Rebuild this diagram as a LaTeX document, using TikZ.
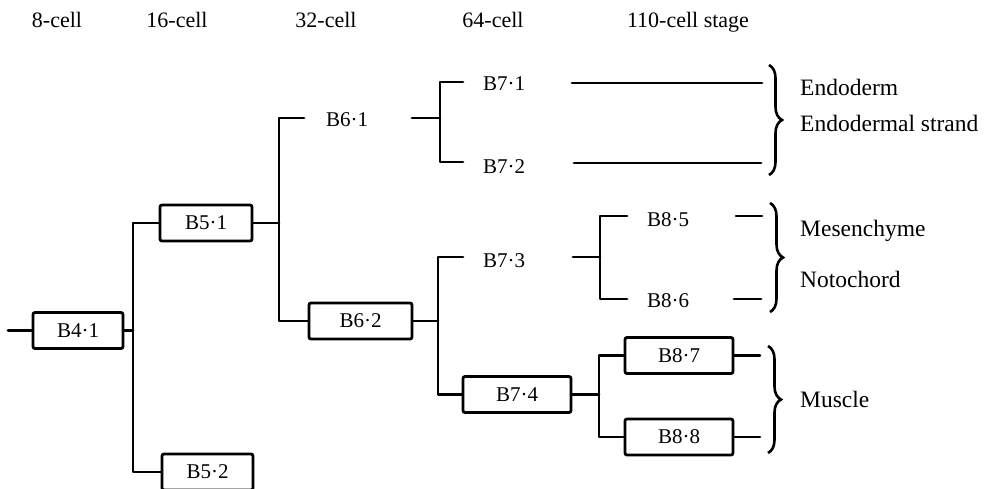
\documentclass[tikz,border=0pt]{standalone}
\usepackage{fontspec}
\setmainfont{Liberation Serif}
\usetikzlibrary{decorations.pathreplacing}
\begin{document}
\begin{tikzpicture}[x=1pt,y=-1pt,
  every node/.style={font=\fontsize{21}{25}\selectfont, inner sep=0pt},
  ln/.style={line width=2.8pt, line cap=round, line join=round},
  cellbox/.style={draw, line width=2.8pt, rounded corners=2pt, minimum height=36pt, anchor=center},
  lbl/.style={anchor=base west},
  fate/.style={anchor=base west, font=\fontsize{23.5}{28}\selectfont},
  hdr/.style={anchor=base, font=\fontsize{22}{26}\selectfont},
  brc/.style={decorate, decoration={brace, amplitude=13pt}, line width=2.6pt}]
\useasboundingbox (0,0) rectangle (988,488);
% headers
\node[hdr] (h8) at (57,27) {8-cell};
\node[hdr] (h16) at (177,27) {16-cell};
\node[hdr] (h32) at (326,27) {32-cell};
\node[hdr] (h64) at (493,27) {64-cell};
\node[hdr] (h110) at (688,27) {110-cell stage};
% boxes
\node[cellbox, minimum width=90pt] (b41) at (78,330.5) {B4·1};
\node[cellbox, minimum width=92pt] (b51) at (206,223) {B5·1};
\node[cellbox, minimum width=91pt] (b52) at (207.5,472) {B5·2};
\node[cellbox, minimum width=103pt] (b62) at (360.5,321) {B6·2};
\node[cellbox, minimum width=108pt] (b74) at (517,394.5) {B7·4};
\node[cellbox, minimum width=108pt] (b87) at (679,355.5) {B8·7};
\node[cellbox, minimum width=108pt] (b88) at (679,437) {B8·8};
% plain labels
\node[lbl] (b61) at (326,126) {B6·1};
\node[lbl] (b71) at (483,90) {B7·1};
\node[lbl] (b72) at (483,173) {B7·2};
\node[lbl] (b73) at (483,267) {B7·3};
\node[lbl] (b85) at (647,226) {B8·5};
\node[lbl] (b86) at (647,307) {B8·6};
% fate labels
\node[fate] (endo) at (800,95) {Endoderm};
\node[fate] (strand) at (800,131) {Endodermal strand};
\node[fate] (mes) at (800,236) {Mesenchyme};
\node[fate] (noto) at (800,287) {Notochord};
\node[fate] (mus) at (800,407) {Muscle};
% coordinates
\coordinate (in) at (8,330.5);
\coordinate (j4) at (133,330.5);
\coordinate (j4t) at (133,223);
\coordinate (j4b) at (133,472);
\coordinate (j5) at (279,223);
\coordinate (j5t) at (279,118);
\coordinate (j5b) at (279,321);
\coordinate (e61) at (304,118);
\coordinate (s61) at (412,118);
\coordinate (j6) at (440,118);
\coordinate (j6t) at (440,82);
\coordinate (j6b) at (440,162);
\coordinate (e71) at (463,82);
\coordinate (e72) at (463,162);
\coordinate (s71) at (572,83);
\coordinate (t71) at (762,83);
\coordinate (s72) at (574,163);
\coordinate (t72) at (761,163);
\coordinate (j62) at (438,321);
\coordinate (j62t) at (438,257);
\coordinate (j62b) at (438,394.5);
\coordinate (e73) at (463,257);
\coordinate (s73) at (573,257);
\coordinate (j73) at (600,257);
\coordinate (j73t) at (600,216);
\coordinate (j73b) at (600,299);
\coordinate (e85) at (627,216);
\coordinate (e86) at (627,299);
\coordinate (s85) at (736,216);
\coordinate (t85) at (762,216);
\coordinate (s86) at (734,299);
\coordinate (t86) at (761,299);
\coordinate (j74) at (599,394.5);
\coordinate (j74t) at (599,355.5);
\coordinate (j74b) at (599,437);
\coordinate (t87) at (760,355.5);
\coordinate (t88) at (760,437);
% connectors
\draw[ln] (in) -- (b41.west);
\draw[ln] (b41.east) -- (j4);
\draw[ln] (b51.west) -- (j4t) -- (j4b) -- (b52.west);
\draw[ln] (b51.east) -- (j5);
\draw[ln] (e61) -- (j5t) -- (j5b) -- (b62.west);
\draw[ln] (s61) -- (j6);
\draw[ln] (e71) -- (j6t) -- (j6b) -- (e72);
\draw[ln] (s71) -- (t71);
\draw[ln] (s72) -- (t72);
\draw[ln] (b62.east) -- (j62);
\draw[ln] (e73) -- (j62t) -- (j62b) -- (b74.west);
\draw[ln] (s73) -- (j73);
\draw[ln] (e85) -- (j73t) -- (j73b) -- (e86);
\draw[ln] (s85) -- (t85);
\draw[ln] (s86) -- (t86);
\draw[ln] (b74.east) -- (j74);
\draw[ln] (b87.west) -- (j74t) -- (j74b) -- (b88.west);
\draw[ln] (b87.east) -- (t87);
\draw[ln] (b88.east) -- (t88);
% braces
\coordinate (br1a) at (769,65);
\coordinate (br1b) at (769,175);
\coordinate (br2a) at (770,203);
\coordinate (br2b) at (770,312);
\coordinate (br3a) at (768,346);
\coordinate (br3b) at (768,453);
\draw[brc] (br1a) -- (br1b);
\draw[brc] (br2a) -- (br2b);
\draw[brc] (br3a) -- (br3b);
\end{tikzpicture}
\end{document}
